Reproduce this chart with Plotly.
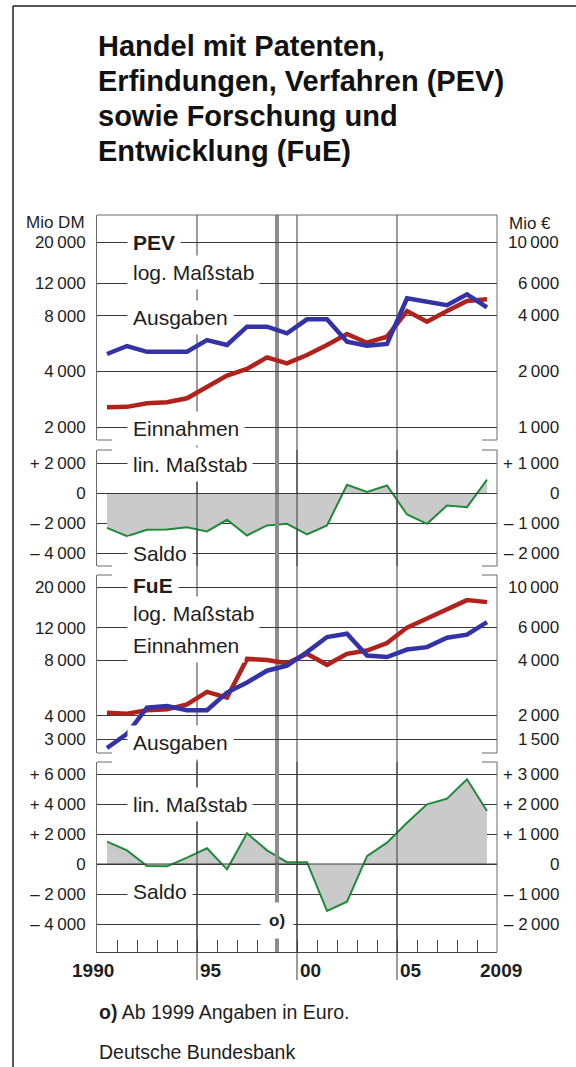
import math
import plotly.graph_objects as go

# ---------------- data ----------------
# Values are given on the left-hand scale (Mio DM); from 1999 on the chart
# shows euro amounts on the right-hand scale (Mio EUR = left scale / 2).
years = list(range(1990, 2010))

pev_einnahmen = [2555, 2570, 2690, 2720, 2860, 3300, 3790, 4120, 4760, 4420,
                 4900, 5545, 6370, 5710, 6150, 8470, 7420, 8470, 9600, 9800]
pev_ausgaben = [4960, 5480, 5100, 5100, 5100, 5900, 5550, 6970, 6970, 6420,
                7640, 7640, 5780, 5500, 5620, 9930, 9440, 9100, 10420, 8870]
pev_saldo = [-2290, -2850, -2420, -2400, -2245, -2530, -1755, -2800, -2130, -2020,
             -2730, -2130, 580, 110, 530, -1400, -2020, -800, -910, 930]

fue_einnahmen = [4165, 4110, 4295, 4345, 4625, 5405, 5030, 8150, 8050, 7715,
                 8690, 7570, 8690, 9050, 9930, 12050, 13490, 15100, 16980, 16560]
fue_ausgaben = [2680, 3200, 4435, 4530, 4295, 4295, 5355, 6075, 7035, 7495,
                8870, 10710, 11170, 8500, 8340, 9160, 9440, 10620, 11040, 12910]
fue_saldo = [1490, 910, -130, -155, 420, 1045, -355, 2045, 910, 120,
             120, -3130, -2510, 530, 1420, 2755, 3980, 4355, 5645, 3530]

pev_log_ticks_dm = [2000, 4000, 8000, 12000, 20000]
pev_log_ticks_eur = [1000, 2000, 4000, 6000, 10000]
pev_lin_ticks_dm = [-4000, -2000, 0, 2000]
pev_lin_ticks_eur = [-2000, -1000, 0, 1000]
fue_log_ticks_dm = [3000, 4000, 8000, 12000, 20000]
fue_log_ticks_eur = [1500, 2000, 4000, 6000, 10000]
fue_lin_ticks_dm = [-4000, -2000, 0, 2000, 4000, 6000]
fue_lin_ticks_eur = [-2000, -1000, 0, 1000, 2000, 3000]
EUR_TO_SCALE = 2  # right-hand scale: 1 Mio EUR sits where 2 Mio DM sit

minor_years = [y for y in range(1991, 2010)]
major_years = [1995, 2000, 2005]
year_labels = [(1990, "1990"), (1995, "95"), (2000, "00"), (2005, "05"), (2009, "2009")]
title_lines = ["Handel mit Patenten,", "Erfindungen, Verfahren (PEV)",
               "sowie Forschung und", "Entwicklung (FuE)"]

# ---------------- layout helpers ----------------
W, H = 576, 1067
FONT = "Liberation Sans, Arial, Helvetica, sans-serif"
TXT = "#1e1e1e"
GRID = "#3a3a3a"
SPINE = "#6a6a6a"
RED, BLUE, GREEN, FILL = "#b0231c", "#3333a6", "#1f8a3a", "#cacaca"
GREY_LINE = "#8c8c8c"


def fx(p):
    return p / W


def fy(p):
    return 1 - p / H


PLOT_L, PLOT_R = 97, 497
P = {1: (215, 440), 2: (450, 566), 3: (575, 753), 4: (762, 952)}


def log_rng(top, bot, va, ya, vb, yb):
    s = (math.log10(va) - math.log10(vb)) / (yb - ya)
    return [math.log10(va) - (bot - ya) * s, math.log10(va) + (ya - top) * s]


def lin_rng(top, bot, va, ya, vb, yb):
    s = (va - vb) / (yb - ya)
    return [va - (bot - ya) * s, va + (ya - top) * s]


r1 = log_rng(*P[1], 20000, 242, 2000, 427)
r2 = lin_rng(*P[2], 2000, 463.5, -4000, 553.5)
r3 = log_rng(*P[3], 20000, 587, 3000, 739)
r4 = lin_rng(*P[4], 6000, 774, -4000, 924)


def fmt(v, sign=False):
    s = f"{abs(int(v)):,}".replace(",", "\u2009")
    if sign:
        if v > 0:
            s = "+ " + s
        elif v < 0:
            s = "\u2013 " + s
    return s


def dom(k):
    return [fy(P[k][1]), fy(P[k][0])]


def left_axis(k, rng, typ, vals, sign):
    return dict(domain=dom(k), range=rng, type=typ, tickmode="array", tickvals=vals,
                ticktext=[fmt(v, sign) for v in vals], showgrid=True, gridcolor=GRID,
                gridwidth=1, zeroline=False, showline=True, linecolor=SPINE, linewidth=1,
                ticks="", ticklabelstandoff=7, anchor="x", automargin=False, fixedrange=True,
                tickfont=dict(size=17, color=TXT, family=FONT))


fig = go.Figure()
xs = [y + 0.5 for y in years]


def line(y, ax, color, width):
    return go.Scatter(x=xs, y=y, yaxis=ax, mode="lines", hoverinfo="skip",
                      line=dict(color=color, width=width), showlegend=False)


fig.add_trace(line(pev_einnahmen, "y", RED, 4.5))
fig.add_trace(line(pev_ausgaben, "y", BLUE, 4.5))
s = line(pev_saldo, "y2", GREEN, 2)
s.update(fill="tozeroy", fillcolor=FILL)
fig.add_trace(s)
fig.add_trace(line(fue_einnahmen, "y3", RED, 4.5))
fig.add_trace(line(fue_ausgaben, "y3", BLUE, 4.5))
s = line(fue_saldo, "y4", GREEN, 2)
s.update(fill="tozeroy", fillcolor=FILL)
fig.add_trace(s)

# ---------------- shapes ----------------
shapes = []
# outer frame (left and top)
shapes.append(dict(type="line", xref="paper", yref="paper", x0=fx(13), x1=fx(13), y0=0, y1=fy(6),
                   line=dict(color="#222", width=1.5)))
shapes.append(dict(type="line", xref="paper", yref="paper", x0=fx(13), x1=1, y0=fy(6), y1=fy(6),
                   line=dict(color="#222", width=1.5)))
# continuous vertical year lines
for yv in major_years:
    shapes.append(dict(type="line", xref="x", yref="paper", x0=yv, x1=yv, y0=fy(980), y1=fy(P[1][0]),
                       layer="below", line=dict(color=GRID, width=1)))
shapes.append(dict(type="line", xref="x", yref="paper", x0=1999, x1=1999, y0=fy(952), y1=fy(P[1][0]),
                   layer="below", line=dict(color=GREY_LINE, width=4)))
# in the balance panels the vertical lines run over the grey area
for ax in ["y2", "y4"]:
    for yv in major_years:
        shapes.append(dict(type="line", xref="x", yref=ax + " domain", x0=yv, x1=yv, y0=0, y1=1,
                           layer="above", line=dict(color=GRID, width=1)))
    shapes.append(dict(type="line", xref="x", yref=ax + " domain", x0=1999, x1=1999, y0=0, y1=1,
                       layer="above", line=dict(color=GREY_LINE, width=4)))
    shapes.append(dict(type="line", xref="x domain", yref=ax, x0=0, x1=1, y0=0, y1=0,
                       layer="above", line=dict(color=GRID, width=1)))
# top frame of first panel
shapes.append(dict(type="line", xref="x domain", yref="y domain", x0=0, x1=1, y0=1, y1=1,
                   line=dict(color=SPINE, width=1)))
# right spines and brackets
cap = 15 / (PLOT_R - PLOT_L)
for k, ax in [(1, "y"), (2, "y2"), (3, "y3"), (4, "y4")]:
    shapes.append(dict(type="line", xref="x domain", yref=ax + " domain", x0=1, x1=1, y0=0, y1=1,
                       line=dict(color=SPINE, width=1)))
    ends = []
    if k > 1:
        ends.append(1)
    if k < 4:
        ends.append(0)
    for e in ends:
        shapes.append(dict(type="line", xref="x domain", yref=ax + " domain", x0=0, x1=cap, y0=e, y1=e,
                           line=dict(color=SPINE, width=1)))
        shapes.append(dict(type="line", xref="x domain", yref=ax + " domain", x0=1 - cap, x1=1, y0=e, y1=e,
                           line=dict(color=SPINE, width=1)))

# ---------------- annotations ----------------
ann = []

# right-hand (euro) tick labels, placed through the panel's own axis
for ax, vals, is_log, sign in [("y", pev_log_ticks_eur, True, False),
                               ("y2", pev_lin_ticks_eur, False, True),
                               ("y3", fue_log_ticks_eur, True, False),
                               ("y4", fue_lin_ticks_eur, False, True)]:
    for v in vals:
        yy = math.log10(v * EUR_TO_SCALE) if is_log else v * EUR_TO_SCALE
        ann.append(dict(text=fmt(v, sign), xref="paper", yref=ax, x=fx(561), y=yy,
                        xanchor="right", yanchor="middle", showarrow=False,
                        font=dict(size=17, color=TXT, family=FONT)))


def label(text, ypx, bold=False):
    ann.append(dict(text=f"<b>{text}</b>" if bold else text, xref="paper", yref="paper",
                    x=fx(127), y=fy(ypx), xanchor="left", yanchor="middle", showarrow=False,
                    bgcolor="white", borderpad=5,
                    font=dict(size=21, color=TXT, family=FONT)))


label("PEV", 243, bold=True)
label("log. Maßstab", 272)
label("Ausgaben", 317)
label("Einnahmen", 428)
label("lin. Maßstab", 464)
label("Saldo", 553)
label("FuE", 585, bold=True)
label("log. Maßstab", 613)
label("Einnahmen", 645)
label("Ausgaben", 742)
label("lin. Maßstab", 804)
label("Saldo", 891)

ann.append(dict(text="Mio DM", xref="paper", yref="paper", x=fx(87), y=fy(222), xanchor="right",
                yanchor="middle", showarrow=False, font=dict(size=17, color=TXT, family=FONT)))
ann.append(dict(text="Mio €", xref="paper", yref="paper", x=fx(507), y=fy(223), xanchor="left",
                yanchor="middle", showarrow=False, font=dict(size=17, color=TXT, family=FONT)))

ann.append(dict(text="<b>o)</b>", xref="x", yref="paper", x=1999, y=fy(920), xanchor="center",
                yanchor="middle", showarrow=False, bgcolor="white", borderpad=8,
                font=dict(size=17, color=TXT, family=FONT)))

for yv, t in year_labels:
    if yv == 1990:
        ann.append(dict(text=f"<b>{t}</b>", xref="x", yref="paper", x=yv, y=fy(970), xanchor="center",
                        xshift=-4, yanchor="middle", showarrow=False,
                        font=dict(size=19, color=TXT, family=FONT)))
    else:
        ann.append(dict(text=f"<b>{t}</b>", xref="x", yref="paper", x=yv, y=fy(970), xanchor="left",
                        xshift=1, yanchor="middle", showarrow=False,
                        font=dict(size=19, color=TXT, family=FONT)))

for i, t in enumerate(title_lines):
    ann.append(dict(text=f"<b>{t}</b>", xref="paper", yref="paper", x=fx(96), y=fy(46 + 35 * i),
                    xanchor="left", yanchor="middle", align="left", showarrow=False,
                    font=dict(size=29, color="#111", family=FONT)))

ann.append(dict(text="<b>o)</b> Ab 1999 Angaben in Euro.", xref="paper", yref="paper", x=fx(97),
                y=fy(1012), xanchor="left", yanchor="middle", showarrow=False,
                font=dict(size=19.5, color=TXT, family=FONT)))
ann.append(dict(text="Deutsche Bundesbank", xref="paper", yref="paper", x=fx(97),
                y=fy(1052), xanchor="left", yanchor="middle", showarrow=False,
                font=dict(size=19.5, color=TXT, family=FONT)))

fig.update_layout(
    template="none",
    width=W, height=H,
    margin=dict(l=0, r=0, t=0, b=0, pad=0),
    paper_bgcolor="white", plot_bgcolor="white",
    font=dict(family=FONT, color=TXT),
    showlegend=False,
    xaxis=dict(domain=[fx(PLOT_L), fx(PLOT_R)], range=[1990, 2010], anchor="y4", showgrid=False,
               zeroline=False, showline=True, linecolor="#444", linewidth=1, ticks="inside",
               ticklen=12, tickcolor="#444", tickwidth=1, tickmode="array", tickvals=minor_years,
               showticklabels=False, automargin=False, fixedrange=True),
    yaxis=left_axis(1, r1, "log", pev_log_ticks_dm, False),
    yaxis2=left_axis(2, r2, "linear", pev_lin_ticks_dm, True),
    yaxis3=left_axis(3, r3, "log", fue_log_ticks_dm, False),
    yaxis4=left_axis(4, r4, "linear", fue_lin_ticks_dm, True),
    shapes=shapes,
    annotations=ann,
)

fig.write_html(
    "out.html",
    config={"displayModeBar": False, "staticPlot": True},
    post_script="document.body.style.margin='0';document.body.style.padding='0';"
                "document.body.style.overflow='hidden';",
)
